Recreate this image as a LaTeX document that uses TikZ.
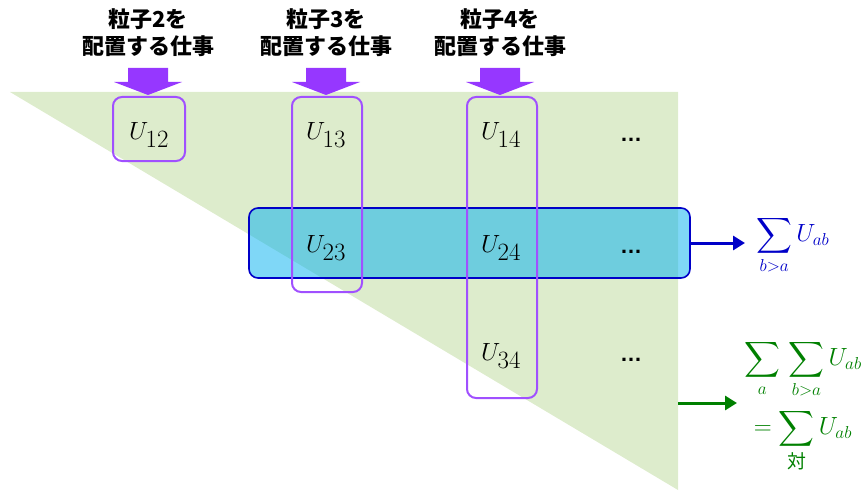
\documentclass[tikz,border=0pt]{standalone}
\usepackage{amsmath}
\usepackage{fontspec}
\newfontfamily\jp{Noto Sans CJK JP}
\newfontfamily\dotsfont{Liberation Sans}
\usetikzlibrary{arrows.meta}
\definecolor{trigreen}{RGB}{221,236,204}
\definecolor{boxblue}{RGB}{0,176,240}
\definecolor{edgeblue}{RGB}{0,0,200}
\definecolor{purp}{RGB}{160,80,255}
\definecolor{arrpurp}{RGB}{150,55,255}
\definecolor{sumgreen}{RGB}{0,128,0}
\tikzset{
  pbox/.style={draw=purp, line width=2pt, rounded corners=9pt, inner sep=0pt},
  ulabel/.style={font=\fontsize{36}{36}\selectfont, inner sep=0pt},
  dotlabel/.style={font=\dotsfont\bfseries\fontsize{22}{22}\selectfont, inner sep=0pt},
  heading/.style={font=\jp\bfseries\fontsize{22}{27}\selectfont, align=center, inner sep=0pt},
  blockarrow/.style={fill=arrpurp, draw=none},
  sumlabel/.style={font=\fontsize{27}{27}\selectfont, inner sep=0pt},
}
\begin{document}
\begin{tikzpicture}[x=1pt,y=-1pt]
\useasboundingbox (0,0) rectangle (861,492);
% green triangle
\fill[trigreen] (10,92) -- (678,92) -- (678,490) -- cycle;
% blue row box
\node[draw=edgeblue, line width=1.6pt, fill=boxblue, fill opacity=0.5, rounded corners=9pt,
      minimum width=441pt, minimum height=70pt, inner sep=0pt] (row) at (469.5,243) {};
% purple boxes
\node[pbox, minimum width=72pt, minimum height=64pt] (b12) at (149,129) {};
\node[pbox, minimum width=70pt, minimum height=195pt] (b13) at (327,194.5) {};
\node[pbox, minimum width=70pt, minimum height=301pt] (b14) at (502,247.5) {};
% headings
\foreach \n/\x in {2/148,3/326,4/500}{
  \node[heading] (h\n) at (\x,33) {粒子\n を\\配置する仕事};
  \fill[blockarrow] (\x-20,68) -- (\x+20,68) -- (\x+20,82) -- (\x+34,82) -- (\x,95) -- (\x-34,82) -- (\x-20,82) -- cycle;
}
% labels
\node[ulabel] (u12) at (149,135) {$U_{12}$};
\node[ulabel] (u13) at (326,135) {$U_{13}$};
\node[ulabel] (u14) at (501,135) {$U_{14}$};
\node[ulabel] (u23) at (326,248) {$U_{23}$};
\node[ulabel] (u24) at (501,248) {$U_{24}$};
\node[ulabel] (u34) at (501,356) {$U_{34}$};
\node[dotlabel] (d1) at (631,140) {…};
\node[dotlabel] (d2) at (631,252) {…};
\node[dotlabel] (d3) at (631,360) {…};
% sums
\node[sumlabel, text=edgeblue, anchor=west] (s1) at (756,245) {$\displaystyle\sum_{b>a}U_{ab}$};
\node[sumlabel, text=sumgreen, align=center] (s2) at (803,406)
  {$\displaystyle\sum_{a}\,\sum_{b>a}U_{ab}$\\[9pt]$\displaystyle=\sum_{\text{\jp 対}}U_{ab}$};
\coordinate (gstart) at (678,403);
\draw[edgeblue, line width=3pt, -{Triangle[length=12pt,width=14pt]}] (row.east) -- (745,243);
\draw[sumgreen, line width=3pt, -{Triangle[length=12pt,width=14pt]}] (gstart) -- (737,403);
\end{tikzpicture}
\end{document}
